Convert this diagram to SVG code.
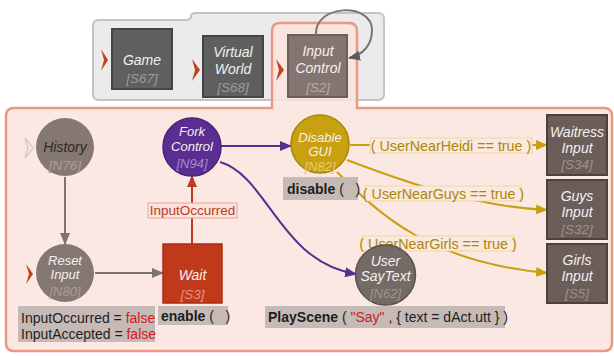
<svg xmlns="http://www.w3.org/2000/svg" width="614" height="356" viewBox="0 0 614 356">
  <style>
    text { font-family: "Liberation Sans", Arial, sans-serif; }
    .nm { font-size: 14px; font-style: italic; fill: #f2f0ef; text-anchor: middle; }
    .id { font-size: 13.5px; font-style: italic; text-anchor: middle; }
    .sm { font-size: 13px; }
    .lbl { font-size: 14px; fill: #1e1e1e; }
    .cond { font-size: 14.3px; fill: #a9870b; }
    .condbox { fill: #fbe8df; stroke: #efd79a; stroke-width: 1; }
    .graybox { fill: #c6bab6; }
    .chev { fill: #c5401f; }
    .gline { fill: none; stroke: #7d7470; stroke-width: 2; }
    .pline { fill: none; stroke: #5a2e91; stroke-width: 2; }
    .yline { fill: none; stroke: #c9a010; stroke-width: 2; }
    .rline { fill: none; stroke: #c0391b; stroke-width: 2; }
  </style>
  <defs>
    <marker id="ahGray" markerUnits="userSpaceOnUse" markerWidth="12" markerHeight="10" refX="11" refY="5" orient="auto">
      <path d="M0,0 L12,5 L0,10 z" fill="#7d7470"/>
    </marker>
    <marker id="ahDark" markerUnits="userSpaceOnUse" markerWidth="12" markerHeight="10" refX="11" refY="5" orient="auto">
      <path d="M0,0 L12,5 L0,10 z" fill="#5a5a5a"/>
    </marker>
    <marker id="ahRed" markerUnits="userSpaceOnUse" markerWidth="12" markerHeight="10" refX="11" refY="5" orient="auto">
      <path d="M0,0 L12,5 L0,10 z" fill="#c0391b"/>
    </marker>
    <marker id="ahPurple" markerUnits="userSpaceOnUse" markerWidth="12" markerHeight="10" refX="11" refY="5" orient="auto">
      <path d="M0,0 L12,5 L0,10 z" fill="#5a2e91"/>
    </marker>
    <marker id="ahGold" markerUnits="userSpaceOnUse" markerWidth="12" markerHeight="10" refX="11" refY="5" orient="auto">
      <path d="M0,0 L12,5 L0,10 z" fill="#c9a010"/>
    </marker>
  </defs>

  <rect width="614" height="356" fill="#ffffff"/>

  <!-- outer containers -->
  <g id="containers">
    <path d="M 99 20 H 186 Q 191 20 191 16 Q 191 13 196 13 H 378 Q 384 13 384 19 V 94 Q 384 100 378 100 H 99 Q 93 100 93 94 V 26 Q 93 20 99 20 Z"
          fill="#ebebeb" stroke="#c4c4c4" stroke-width="2"/>
    <path d="M 14 108 H 272 V 31 Q 272 23 280 23 H 349 Q 357 23 357 31 V 108 H 604 Q 612 108 612 116 V 343 Q 612 351 604 351 H 14 Q 6 351 6 343 V 116 Q 6 108 14 108 Z"
          fill="#fbe4dd" fill-opacity="0.85" stroke="#ea9a80" stroke-width="2.5"/>
  </g>

  <!-- top level states -->
  <g id="game">
    <polygon class="chev" points="101,49 108,60 101,71 104,60"/>
    <rect x="112" y="29" width="60" height="60" fill="#5f5f5f" stroke="#454545" stroke-width="2"/>
    <text class="nm" x="142" y="65" font-size="15">Game</text>
    <text class="id" x="142" y="83" fill="#9c9c9c">[S67]</text>
  </g>
  <g id="virtual-world">
    <polygon class="chev" points="192,59 200,70 192,81 195,70"/>
    <rect x="203" y="36" width="60" height="61" fill="#5f5f5f" stroke="#454545" stroke-width="2"/>
    <text class="nm" x="233" y="57">Virtual</text>
    <text class="nm" x="233" y="74">World</text>
    <text class="id" x="233" y="92" fill="#9c9c9c">[S68]</text>
  </g>
  <g id="input-control">
    <polygon class="chev" points="276,59 284,70 276,81 279,70"/>
    <rect x="288" y="35" width="59" height="62" fill="#857571" stroke="#6c5e59" stroke-width="2"/>
    <text class="nm" x="318" y="56">Input</text>
    <text class="nm" x="318" y="73">Control</text>
    <text class="id" x="318" y="92" fill="#b7aaa6">[S2]</text>
  </g>

  <!-- connectors -->
  <g id="connectors">
    <path class="gline" d="M 316 35 C 314 4, 372 2, 372 30 C 372 45, 363 55, 349 58" stroke="#5a5a5a" marker-end="url(#ahDark)"/>
    <path class="gline" d="M 65 177 V 244" marker-end="url(#ahGray)"/>
    <path class="gline" d="M 95 273 H 163" marker-end="url(#ahGray)"/>
    <path class="rline" d="M 192 244 V 176" marker-end="url(#ahRed)"/>
    <path class="pline" d="M 221 146 H 291" marker-end="url(#ahPurple)"/>
    <path class="pline" d="M 220 162 C 268 176, 280 262, 356 274" marker-end="url(#ahPurple)"/>
    <path class="yline" d="M 350 145 H 370"/>
    <path class="yline" d="M 532 145 H 547" marker-end="url(#ahGold)"/>
    <path class="yline" d="M 347 160 C 400 180, 470 206, 547 210" marker-end="url(#ahGold)"/>
    <path class="yline" d="M 337 172 C 380 215, 430 262, 547 273" marker-end="url(#ahGold)"/>
  </g>

  <!-- transition labels -->
  <g id="labels">
    <rect x="148" y="203" width="89" height="15" fill="#fbe4de" stroke="#e6a393" stroke-width="1"/>
    <text x="192.5" y="215" font-size="13.5" fill="#b8391d" text-anchor="middle">InputOccurred</text>
    <rect class="condbox" x="370" y="138" width="162" height="15"/>
    <text class="cond" x="451" y="150.5" text-anchor="middle">( UserNearHeidi == true )</text>
    <rect class="condbox" x="365" y="186" width="157" height="15"/>
    <text class="cond" x="443.5" y="198.5" text-anchor="middle">( UserNearGuys == true )</text>
    <rect class="condbox" x="362" y="236" width="152" height="15"/>
    <text class="cond" x="438" y="248.5" text-anchor="middle">( UserNearGirls == true )</text>
  </g>

  <!-- nodes in the input control state -->
  <g id="history">
    <polygon points="25,138 33,148 25,158 28,148" fill="none" stroke="#cfc4c0" stroke-width="1.2"/>
    <circle cx="65" cy="147" r="29" fill="#857873"/>
    <text class="nm" x="65" y="152" font-size="15" style="fill:#2e2a28">History</text>
    <text class="id" x="65" y="170" fill="#a99d99">[N76]</text>
  </g>
  <g id="fork-control">
    <circle cx="192" cy="147" r="29" fill="#5a2e91" stroke="#4a2278" stroke-width="1.5"/>
    <text class="nm sm" x="192" y="136">Fork</text>
    <text class="nm sm" x="192" y="151">Control</text>
    <text class="id sm" x="192" y="168" fill="#a08bc8">[N94]</text>
  </g>
  <g id="reset-input">
    <polygon class="chev" points="26,264 33,274 26,284 29,274"/>
    <circle cx="65" cy="273" r="29" fill="#857873"/>
    <text class="nm sm" x="65" y="265">Reset</text>
    <text class="nm sm" x="65" y="279">Input</text>
    <text class="id sm" x="65" y="296" fill="#a99d99">[N80]</text>
    <rect class="graybox" x="18" y="306" width="137" height="36"/>
    <text class="lbl" x="21" y="323">InputOccurred = <tspan fill="#d0201e">false</tspan></text>
    <text class="lbl" x="21" y="339">InputAccepted = <tspan fill="#d0201e">false</tspan></text>
  </g>
  <g id="wait">
    <rect x="163" y="244" width="59" height="59" fill="#c0391b" stroke="#a92e13" stroke-width="1.5"/>
    <text class="nm" x="192.5" y="280">Wait</text>
    <text class="id" x="192.5" y="299" fill="#e49480">[S3]</text>
    <rect class="graybox" x="158" y="306" width="70" height="19"/>
    <text class="lbl" x="161" y="321"><tspan font-weight="bold">enable</tspan> ( &#160; )</text>
  </g>
  <g id="disable-gui">
    <circle cx="320" cy="144" r="29" fill="#c9a010" stroke="#a8860a" stroke-width="1.5"/>
    <text class="nm sm" x="320" y="142">Disable</text>
    <text class="nm sm" x="320" y="156">GUI</text>
    <text class="id sm" x="320" y="171" fill="#e6cd6a">[N82]</text>
    <rect class="graybox" x="283" y="177" width="75" height="23"/>
    <text class="lbl" x="287" y="194"><tspan font-weight="bold">disable</tspan> ( &#160; )</text>
  </g>
  <g id="user-say-text">
    <circle cx="385.5" cy="275" r="30" fill="#756b66" stroke="#5c524e" stroke-width="1.5"/>
    <text class="nm" x="385.5" y="266">User</text>
    <text class="nm" x="385.5" y="281">SayText</text>
    <text class="id sm" x="385.5" y="298" fill="#a0958f">[N62]</text>
    <rect class="graybox" x="265" y="306" width="240" height="22"/>
    <text class="lbl" x="268" y="322"><tspan font-weight="bold">PlayScene</tspan> ( <tspan fill="#d0201e">"Say"</tspan> , { text = dAct.utt } )</text>
  </g>
  <g id="waitress-input">
    <rect x="547" y="115" width="60" height="60" fill="#6b5d58" stroke="#4b413d" stroke-width="2"/>
    <text class="nm" x="577" y="137">Waitress</text>
    <text class="nm" x="577" y="153">Input</text>
    <text class="id" x="577" y="169" fill="#9e918c">[S34]</text>
  </g>
  <g id="guys-input">
    <rect x="547" y="180" width="60" height="59" fill="#6b5d58" stroke="#4b413d" stroke-width="2"/>
    <text class="nm" x="577" y="201">Guys</text>
    <text class="nm" x="577" y="217">Input</text>
    <text class="id" x="577" y="234" fill="#9e918c">[S32]</text>
  </g>
  <g id="girls-input">
    <rect x="547" y="244" width="60" height="59" fill="#6b5d58" stroke="#4b413d" stroke-width="2"/>
    <text class="nm" x="577" y="265">Girls</text>
    <text class="nm" x="577" y="281">Input</text>
    <text class="id" x="577" y="298" fill="#9e918c">[S5]</text>
  </g>
</svg>
